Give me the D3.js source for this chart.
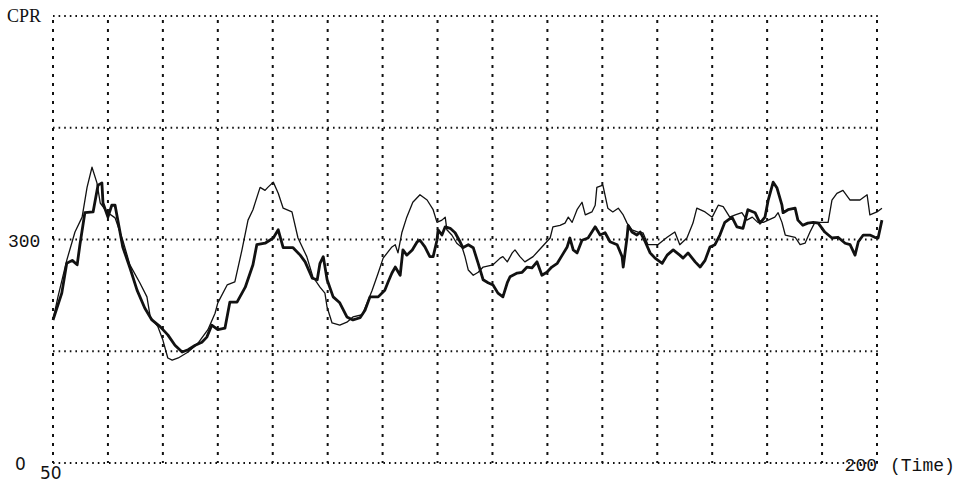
<!DOCTYPE html>
<html>
<head>
<meta charset="utf-8">
<script src="https://cdn.jsdelivr.net/npm/d3@7"></script>
<style>
  html, body { margin: 0; padding: 0; background: #fff; }
  svg { display: block; }
</style>
</head>
<body>
<svg id="chart" width="965" height="484"></svg>
<script>
// ---- data ----
const xGridTicks = [50, 60, 70, 80, 90, 100, 110, 120, 130, 140, 150, 160, 170, 180, 190, 200];
const yGridTicks = [0, 150, 300, 450, 600];
const xTickLabels = [{v: 50, t: "50"}, {v: 200, t: "200"}];
const yTickLabels = [{v: 0, t: "0"}, {v: 300, t: "300"}];

// thin line series
const timeThin = [50, 50.9, 52.5, 54.0, 55.3, 56.2, 57.1, 58.0, 58.6, 59.8, 61.3, 62.7, 64.0, 65.8, 67.1, 67.7, 69.1, 70.0, 70.9, 71.7,
  72.8, 74.6, 76.4, 78.2, 79.5, 80.0, 81.7, 83.1, 84.4, 85.5, 86.4, 87.7, 88.6, 89.1, 90.1, 91.0, 91.9, 93.5, 94.6, 96.2,
  97.3, 98.6, 99.5, 99.9, 100.8, 102.2, 103.5, 104.6, 106.3, 107.2, 108.1, 109.2, 110.1, 111.7, 112.3, 112.8, 113.5, 114.4, 115.5, 116.8,
  118.1, 119.2, 119.9, 120.8, 121.4, 121.7, 122.6, 123.5, 124.5, 125.0, 125.6, 126.5, 127.4, 128.3, 130.1, 131.4, 131.9, 132.7, 133.6, 134.1,
  135.0, 135.9, 137.4, 139.0, 140.5, 141.0, 142.3, 143.2, 143.8, 144.5, 145.4, 146.3, 146.9, 148.1, 148.7, 149.0, 150.1, 151.0, 151.9, 152.9,
  153.8, 154.5, 155.4, 156.5, 157.4, 158.3, 160.1, 161.8, 163.2, 164.1, 165.4, 166.5, 167.2, 168.7, 170.0, 171.1, 172.0, 173.2, 174.2, 175.4,
  176.3, 177.3, 178.3, 179.3, 180.2, 181.4, 182.0, 182.7, 183.3, 185.1, 186.0, 186.9, 187.8, 188.7, 190.0, 191.1, 191.8, 192.7, 193.8, 195.1,
  196.9, 198.2, 198.7, 200.0, 200.9];
const cprThin = [192, 223, 272, 310, 330, 370, 397, 376, 349, 337, 329, 299, 266, 242, 223, 196, 183, 165, 141, 138,
  141, 149, 161, 179, 201, 215, 239, 243, 286, 326, 340, 370, 366, 370, 377, 362, 342, 337, 302, 277,
  250, 236, 228, 209, 188, 185, 189, 196, 199, 215, 232, 255, 275, 290, 293, 282, 309, 330, 350, 360,
  353, 340, 323, 326, 330, 313, 306, 295, 289, 277, 259, 252, 256, 263, 266, 275, 277, 270, 282, 286,
  277, 270, 277, 290, 302, 317, 319, 322, 330, 323, 340, 350, 333, 337, 346, 370, 373, 342, 337, 342,
  333, 322, 313, 310, 309, 293, 293, 303, 310, 293, 302, 322, 342, 337, 330, 346, 344, 330, 333, 336,
  326, 330, 323, 323, 326, 330, 336, 323, 306, 303, 293, 295, 310, 323, 323, 323, 353, 362, 366, 353,
  353, 360, 333, 337, 342];

// thick line series
const timeThick = [50, 51.6, 52.5, 53.5, 54.4, 54.9, 55.8, 57.3, 58.2, 58.9, 59.1, 60.0, 60.7, 61.3, 61.8, 62.7, 64.0, 65.3, 66.7, 68.0,
  69.5, 70.9, 72.2, 73.5, 74.6, 75.9, 77.1, 78.0, 78.9, 80.0, 81.3, 82.2, 83.5, 85.0, 86.4, 87.1, 88.6, 90.1, 91.0, 91.9,
  93.7, 95.0, 95.9, 97.2, 98.1, 98.6, 99.2, 99.9, 101.0, 102.2, 103.5, 104.6, 105.9, 106.8, 107.7, 109.2, 110.4, 111.0, 111.7, 112.3,
  113.2, 113.7, 114.4, 115.4, 116.3, 116.8, 117.7, 118.6, 119.2, 119.9, 120.1, 120.8, 121.4, 122.3, 123.2, 124.1, 124.6, 125.6, 126.5, 127.4,
  128.3, 129.2, 130.1, 131.0, 131.9, 132.7, 133.2, 134.5, 135.4, 136.3, 137.2, 138.1, 139.0, 139.9, 140.8, 141.8, 142.7, 143.6, 144.1, 144.7,
  145.4, 146.3, 147.4, 148.7, 149.6, 150.5, 151.4, 152.7, 153.6, 153.8, 154.5, 154.7, 155.4, 156.3, 156.9, 157.8, 158.7, 159.6, 160.9, 161.8,
  162.9, 164.1, 164.7, 165.6, 166.9, 167.8, 168.7, 169.6, 170.5, 171.4, 172.3, 173.6, 174.5, 175.6, 176.5, 177.8, 178.7, 179.6, 180.2, 181.1,
  181.8, 182.7, 182.9, 183.8, 185.1, 185.6, 186.5, 187.4, 188.4, 189.3, 190.5, 191.8, 192.9, 194.2, 195.1, 196.0, 196.6, 197.5, 198.7, 199.6,
  200.2, 200.9];
const cprThick = [192, 228, 268, 272, 266, 293, 336, 337, 373, 376, 349, 330, 346, 346, 326, 290, 262, 232, 208, 192,
  183, 172, 158, 149, 152, 158, 162, 169, 185, 179, 181, 216, 216, 236, 266, 293, 295, 302, 313, 289,
  289, 279, 270, 248, 246, 268, 277, 246, 223, 215, 196, 192, 195, 205, 223, 223, 232, 243, 255, 263,
  252, 286, 279, 286, 297, 299, 290, 277, 277, 299, 313, 306, 317, 315, 309, 297, 289, 293, 289, 268,
  246, 242, 239, 228, 223, 242, 250, 255, 256, 263, 262, 270, 252, 256, 263, 268, 279, 290, 302, 286,
  282, 299, 302, 317, 306, 309, 297, 293, 277, 263, 303, 319, 310, 306, 310, 297, 282, 275, 268, 279,
  286, 279, 275, 282, 270, 263, 272, 290, 293, 306, 323, 330, 317, 315, 340, 336, 322, 330, 353, 377,
  369, 346, 336, 340, 342, 326, 319, 322, 323, 322, 310, 302, 303, 295, 293, 279, 297, 306, 306, 303,
  302, 326];

// ---- drawing ----
const svg = d3.select("#chart");
const x = d3.scaleLinear().domain([50, 200]).range([53, 877]);
const y = d3.scaleLinear().domain([0, 600]).range([463, 16]);

// grid (dotted)
const grid = svg.append("g").attr("stroke", "#111").attr("fill", "none");
grid.selectAll("line.h").data(yGridTicks).join("line")
  .attr("class", "h")
  .attr("x1", x(50)).attr("x2", x(200) + 2)
  .attr("y1", d => y(d)).attr("y2", d => y(d))
  .attr("stroke-width", 2)
  .attr("stroke-dasharray", "1.6,4");
grid.selectAll("line.v").data(xGridTicks).join("line")
  .attr("class", "v")
  .attr("x1", d => x(d)).attr("x2", d => x(d))
  .attr("y1", y(600) + 4).attr("y2", y(0))
  .attr("stroke-width", 2)
  .attr("stroke-dasharray", "3,6");

// series lines
const line = d3.line().x(d => x(d[0])).y(d => y(d[1])).curve(d3.curveLinear);
const thinData = timeThin.map((t, i) => [t, cprThin[i]]);
const thickData = timeThick.map((t, i) => [t, cprThick[i]]);

svg.append("path").datum(thinData)
  .attr("d", line).attr("fill", "none")
  .attr("stroke", "#111").attr("stroke-width", 1.3)
  .attr("stroke-linejoin", "round");
svg.append("path").datum(thickData)
  .attr("d", line).attr("fill", "none")
  .attr("stroke", "#111").attr("stroke-width", 2.8)
  .attr("stroke-linejoin", "round");

// labels
svg.append("text").text("CPR")
  .attr("x", 7).attr("y", 22)
  .attr("font-family", "'Liberation Serif', serif").attr("font-size", 18)
  .attr("fill", "#111");

svg.selectAll("text.ylab").data(yTickLabels).join("text")
  .attr("class", "ylab")
  .attr("x", d => d.v === 0 ? 15 : 8)
  .attr("y", d => y(d.v) + 7)
  .attr("font-family", d => d.v === 0 ? "'DejaVu Sans', sans-serif" : "'Liberation Mono', monospace")
  .attr("font-size", d => d.v === 0 ? 17 : 18)
  .attr("fill", "#111")
  .text(d => d.t);

svg.selectAll("text.xlab").data(xTickLabels).join("text")
  .attr("class", "xlab")
  .attr("x", d => d.v === 50 ? x(d.v) - 13 : x(d.v))
  .attr("y", d => d.v === 50 ? 479 : 471)
  .attr("text-anchor", d => d.v === 50 ? "start" : "end")
  .attr("font-family", d => d.v === 50 ? "'DejaVu Sans', sans-serif" : "'Liberation Mono', monospace")
  .attr("font-size", d => d.v === 50 ? 17 : 18)
  .attr("fill", "#111")
  .text(d => d.t);

svg.append("text").text("(Time)")
  .attr("x", 890).attr("y", 471)
  .attr("font-family", "'Liberation Mono', monospace").attr("font-size", 18)
  .attr("fill", "#111");
</script>
</body>
</html>
